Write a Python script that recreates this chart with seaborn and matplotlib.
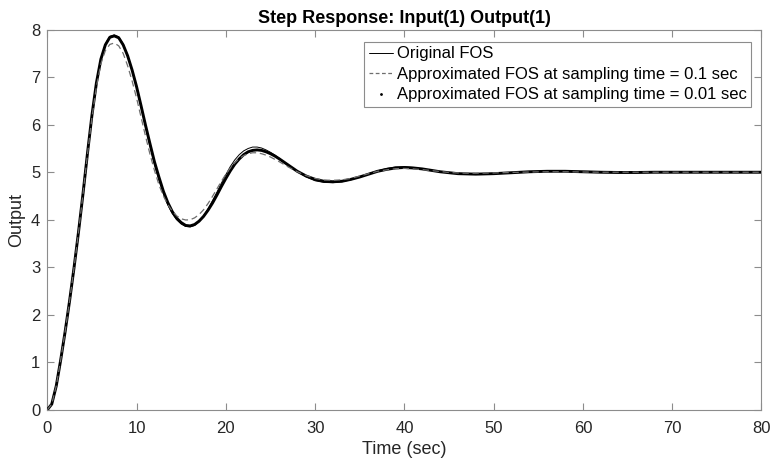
import matplotlib
matplotlib.use("Agg")
import matplotlib.pyplot as plt
from matplotlib.lines import Line2D
import seaborn as sns
import pandas as pd

# Sample times (sec)
time_s = [
    0, 0.5, 1, 1.5, 2, 2.5, 3, 3.5, 4, 4.5, 5, 5.5, 6, 6.5, 7, 7.5, 8, 8.5, 9, 9.5,
    10, 10.5, 11, 11.5, 12, 12.5, 13, 13.5, 14, 14.5, 15, 15.5, 16, 16.5, 17, 17.5,
    18, 18.5, 19, 19.5, 20, 20.5, 21, 21.5, 22, 22.5, 23, 23.5, 24, 24.5, 25, 25.5, 26,
    27, 28, 29, 30, 31, 32, 33, 34, 35, 36, 37, 38, 39, 40, 41, 42, 43, 44, 45, 46, 47, 48,
    50, 52, 54, 56, 58, 60, 62, 64, 66, 68, 70, 72, 74, 76, 78, 80,
]

# Original FOS step response
original_fos = [
    0, 0.12, 0.5, 1.05, 1.65, 2.3, 3.0, 3.75, 4.55, 5.4, 6.2, 6.88, 7.4, 7.7, 7.86, 7.89, 7.85, 7.7, 7.45, 7.14,
    6.78, 6.37, 5.95, 5.55, 5.17, 4.84, 4.55, 4.31, 4.13, 4.0, 3.91, 3.86, 3.85, 3.88, 3.96, 4.08,
    4.23, 4.4, 4.58, 4.77, 4.95, 5.12, 5.26, 5.37, 5.45, 5.5, 5.53, 5.53, 5.51, 5.47, 5.42, 5.36, 5.29,
    5.15, 5.01, 4.9, 4.82, 4.785, 4.78, 4.8, 4.84, 4.9, 4.97, 5.03, 5.08, 5.11, 5.115, 5.1, 5.07, 5.04, 5.01, 4.985, 4.97, 4.96, 4.96,
    4.97, 4.99, 5.01, 5.02, 5.02, 5.01, 5.0, 4.995, 4.995, 5.0, 5.0, 5.0, 5.0, 5.0, 5.0, 5.0,
]

# Approximation, sampling time 0.1 sec
approx_01 = [
    0, 0.12, 0.5, 1.05, 1.65, 2.3, 3.0, 3.75, 4.55, 5.38, 6.15, 6.8, 7.28, 7.56, 7.69, 7.72, 7.66, 7.5, 7.24, 6.92,
    6.56, 6.16, 5.76, 5.38, 5.04, 4.74, 4.5, 4.32, 4.18, 4.08, 4.02, 3.995, 4.0, 4.04, 4.11, 4.21,
    4.34, 4.49, 4.65, 4.81, 4.96, 5.09, 5.2, 5.29, 5.35, 5.39, 5.41, 5.41, 5.39, 5.36, 5.32, 5.27, 5.22,
    5.11, 5.01, 4.93, 4.87, 4.835, 4.83, 4.84, 4.87, 4.92, 4.97, 5.02, 5.05, 5.075, 5.08, 5.07, 5.055, 5.035, 5.015, 4.995, 4.985, 4.98, 4.98,
    4.985, 4.995, 5.005, 5.01, 5.01, 5.005, 5.0, 5.0, 5.0, 5.0, 5.0, 5.0, 5.0, 5.0, 5.0, 5.0,
]

# Approximation, sampling time 0.01 sec
approx_001 = [
    0, 0.12, 0.5, 1.05, 1.65, 2.3, 3.0, 3.75, 4.55, 5.4, 6.2, 6.88, 7.38, 7.68, 7.84, 7.87, 7.83, 7.68, 7.45, 7.15,
    6.8, 6.4, 5.99, 5.6, 5.22, 4.9, 4.6, 4.36, 4.17, 4.03, 3.94, 3.88, 3.87, 3.9, 3.97, 4.07,
    4.2, 4.35, 4.52, 4.7, 4.87, 5.03, 5.17, 5.28, 5.37, 5.43, 5.46, 5.47, 5.46, 5.43, 5.39, 5.34, 5.28,
    5.15, 5.02, 4.92, 4.85, 4.81, 4.8, 4.81, 4.85, 4.9, 4.96, 5.02, 5.06, 5.09, 5.1, 5.09, 5.07, 5.04, 5.01, 4.99, 4.97, 4.965, 4.96,
    4.97, 4.99, 5.01, 5.02, 5.02, 5.01, 5.0, 4.995, 4.995, 5.0, 5.0, 5.0, 5.0, 5.0, 5.0, 5.0,
]

labels = [
    "Original FOS",
    "Approximated FOS at sampling time = 0.1 sec",
    "Approximated FOS at sampling time = 0.01 sec",
]
x_ticks = [0, 10, 20, 30, 40, 50, 60, 70, 80]
y_ticks = [0, 1, 2, 3, 4, 5, 6, 7, 8]

sns.set_style("white")
plt.rcParams["font.family"] = ["Liberation Sans", "DejaVu Sans"]

axis_gray = "#8c8c8c"
dash_gray = "#6e6e6e"
text_dark = "#262626"

fig = plt.figure(figsize=(7.73, 4.62), dpi=100)
ax = fig.add_axes([0.0612, 0.113, 0.9239, 0.8227])

df = pd.DataFrame({
    "t": time_s,
    "orig": original_fos,
    "a01": approx_01,
    "a001": approx_001,
})

sns.lineplot(data=df, x="t", y="a001", ax=ax, color="black", linewidth=2.1,
             solid_capstyle="round", zorder=3)
sns.lineplot(data=df, x="t", y="orig", ax=ax, color="black", linewidth=0.7, zorder=4)
sns.lineplot(data=df, x="t", y="a01", ax=ax, color=dash_gray, linewidth=0.9,
             linestyle=(0, (5, 3)), zorder=5)

ax.set_xlim(0, 80)
ax.set_ylim(0, 8)
ax.set_xticks(x_ticks)
ax.set_yticks(y_ticks)
ax.tick_params(direction="in", length=5, width=0.8, color=axis_gray,
               labelcolor=text_dark, labelsize=12, top=True, right=True,
               bottom=True, left=True)
ax.tick_params(axis="x", pad=8)
ax.tick_params(axis="y", pad=5)
for s in ax.spines.values():
    s.set_visible(True)
    s.set_color(axis_gray)
    s.set_linewidth(0.8)

ax.set_xlabel("Time (sec)", fontsize=13, color=text_dark, labelpad=4)
ax.set_ylabel("Output", fontsize=13, color=text_dark, labelpad=4)
ax.set_title("Step Response: Input(1) Output(1)", fontsize=13, fontweight="bold",
             color="black", pad=5)

handles = [
    Line2D([], [], color="black", linewidth=0.7),
    Line2D([], [], color=dash_gray, linewidth=0.9, linestyle=(0, (3, 2))),
    Line2D([], [], color="black", linestyle="none", marker=".", markersize=2),
]
leg = ax.legend(handles, labels, loc="upper right", bbox_to_anchor=(0.9853, 0.9668),
                fontsize=12, frameon=True, fancybox=False, framealpha=1,
                edgecolor=axis_gray, handlelength=1.45, handletextpad=0.25,
                labelspacing=0.33, borderpad=0.25, borderaxespad=0.0)
leg.get_frame().set_linewidth(0.8)
for t in leg.get_texts():
    t.set_color("black")

fig.savefig("out.png", dpi=100)
